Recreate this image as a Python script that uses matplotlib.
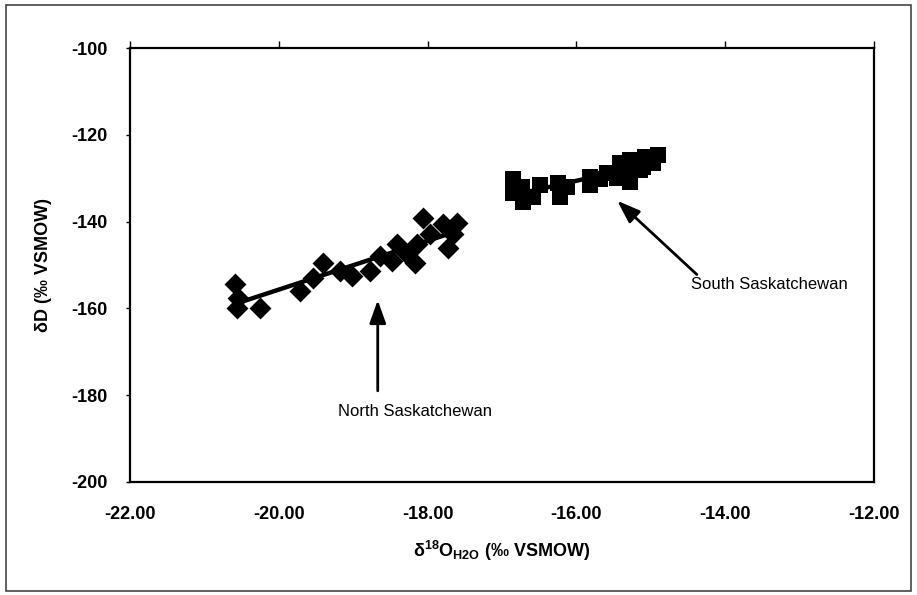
import numpy as np
import matplotlib
matplotlib.use("Agg")
import matplotlib.pyplot as plt
from matplotlib.patches import Rectangle

plt.rcParams['font.family'] = ['Liberation Sans', 'DejaVu Sans']
plt.rcParams['mathtext.fontset'] = 'custom'
plt.rcParams['mathtext.rm'] = 'Liberation Sans:bold'
plt.rcParams['mathtext.bf'] = 'Liberation Sans:bold'
plt.rcParams['mathtext.default'] = 'bf'

# North Saskatchewan River samples (d18O, dD)
north_d18o = [-20.59, -20.55, -20.56, -20.25, -19.72, -19.54, -19.41, -19.18,
              -19.02, -18.77, -18.64, -18.41, -18.48, -18.28, -18.14, -18.17,
              -18.06, -17.97, -17.79, -17.60, -17.73, -17.66]
north_dd = [-154.4, -157.6, -160.0, -160.0, -156.0, -153.0, -149.5, -151.4,
            -152.5, -151.4, -147.9, -145.1, -149.1, -147.5, -145.1, -149.5,
            -139.1, -142.8, -140.5, -140.3, -146.1, -142.8]

# South Saskatchewan River samples (d18O, dD)
south_d18o = [-16.85, -16.85, -16.72, -16.73, -16.49, -16.58, -16.25, -16.22,
              -16.13, -15.82, -15.82, -15.68, -15.59, -15.45, -15.28, -15.28,
              -15.10, -14.97, -14.90, -15.08, -15.28, -15.41, -15.15]
south_dd = [-130.3, -133.3, -135.6, -132.0, -131.5, -134.3, -131.0, -134.3,
            -132.0, -129.7, -131.5, -130.3, -128.7, -129.9, -130.8, -128.0,
            -127.4, -126.4, -124.6, -125.1, -125.7, -126.4, -128.0]

x_ticks = [-22.0, -20.0, -18.0, -16.0, -14.0, -12.0]
y_ticks = [-100, -120, -140, -160, -180, -200]

fig = plt.figure(figsize=(9.17, 5.95), dpi=100)
ax = fig.add_axes([0.1418, 0.19, 0.953 - 0.1418, 0.9193 - 0.19])

ax.scatter(north_d18o, north_dd, marker='D', s=125, color='black', zorder=3,
           linewidths=0)
ax.scatter(south_d18o, south_dd, marker='s', s=120, color='black', zorder=3,
           linewidths=0)

# least-squares lines through each river's samples
for xs, ys in ((north_d18o, north_dd), (south_d18o, south_dd)):
    xs = np.asarray(xs)
    k, b = np.polyfit(xs, ys, 1)
    xx = np.array([xs.min(), xs.max()])
    ax.plot(xx, k * xx + b, color='black', lw=3.2, zorder=2)

ax.set_xlim(-22, -12)
ax.set_ylim(-200, -100)
ax.set_xticks(x_ticks)
ax.set_yticks(y_ticks)
ax.set_xticklabels([f"{v:.2f}" for v in x_ticks], fontsize=13, fontweight='bold')
ax.set_yticklabels([str(v) for v in y_ticks], fontsize=13, fontweight='bold')

# x ticks drawn on the top edge, labels kept along the bottom
ax.tick_params(axis='x', which='both', bottom=False, top=True, direction='out',
               length=5, width=1, labelbottom=True, pad=12)
ax.tick_params(axis='y', direction='out', length=3, width=1, pad=13)
for sp in ax.spines.values():
    sp.set_linewidth(1.6)

ax.set_xlabel(r"$\delta^{18}$O$_{H2O}$ (‰ VSMOW)", fontsize=13,
              fontweight='bold', labelpad=12)
ax.set_ylabel("δD (‰ VSMOW)", fontsize=13, fontweight='bold', labelpad=14)

arrow = dict(arrowstyle='-|>,head_length=1.4,head_width=0.5', color='black',
             lw=2, shrinkA=0, shrinkB=0)
ax.annotate("", xy=(-18.67, -158.1), xytext=(-18.67, -179.0),
            arrowprops=arrow)
ax.text(-18.17, -183.7, "North Saskatchewan", fontsize=12, ha='center',
        va='center')
ax.annotate("", xy=(-15.45, -135.2), xytext=(-14.38, -152.2),
            arrowprops=arrow)
ax.text(-13.40, -154.5, "South Saskatchewan", fontsize=12, ha='center',
        va='center')

fig.patches.append(Rectangle((0.006, 0.006), 0.988, 0.985,
                             transform=fig.transFigure, fill=False,
                             edgecolor='#444444', lw=1.2))

fig.savefig("out.png", dpi=100)
